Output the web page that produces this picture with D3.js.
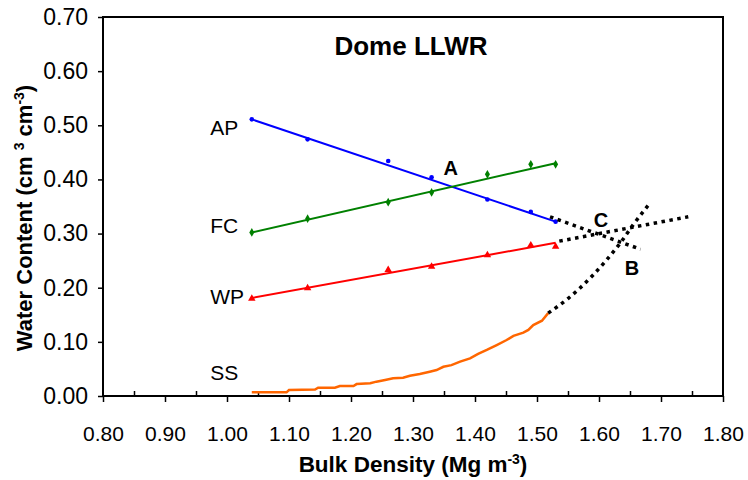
<!DOCTYPE html>
<html>
<head>
<meta charset="utf-8">
<script src="https://cdn.jsdelivr.net/npm/d3@7/dist/d3.min.js"></script>
<style>
  body { margin: 0; background: #fff; }
  text { font-family: "Liberation Sans", Arial, sans-serif; }
</style>
</head>
<body>
<div id="graph-container"></div>
<script>
// Bulk density of the sampled points
const bulkDensity = [1.04, 1.13, 1.26, 1.33, 1.42, 1.49, 1.53];
// Measured water contents
const apValues = [0.511, 0.474, 0.434, 0.404, 0.363, 0.340, 0.322];
const fcValues = [0.302, 0.3275, 0.358, 0.376, 0.4095, 0.428, 0.428];
const wpValues = [0.180, 0.1995, 0.233, 0.239, 0.2604, 0.2785, 0.276];

// Fitted lines [bulk density, water content]
const apFit = [[1.04, 0.511], [1.53, 0.322]];
const fcFit = [[1.04, 0.302], [1.53, 0.430]];
const wpFit = [[1.04, 0.181], [1.53, 0.283]];

// Soil strength limit (stepped curve)
const ssCurve = [
  [1.040, 0.0068], [1.096, 0.0068], [1.100, 0.011], [1.142, 0.012], [1.147, 0.0154],
  [1.174, 0.0154], [1.182, 0.0185], [1.204, 0.0185], [1.209, 0.022], [1.231, 0.0234],
  [1.241, 0.0265], [1.255, 0.0295], [1.268, 0.0326], [1.284, 0.0338], [1.295, 0.0375],
  [1.311, 0.0406], [1.327, 0.0449], [1.338, 0.048], [1.349, 0.054], [1.362, 0.057],
  [1.376, 0.0634], [1.392, 0.0696], [1.405, 0.0776], [1.419, 0.085], [1.435, 0.094],
  [1.451, 0.1034], [1.462, 0.111], [1.478, 0.117], [1.486, 0.122], [1.494, 0.131],
  [1.508, 0.139], [1.518, 0.153]
];

// Dotted extrapolations
const apExt = [[1.521, 0.331], [1.667, 0.271]];
const wpExt = [[1.536, 0.286], [1.744, 0.331]];
const ssExt = [[1.518, 0.153], [1.550, 0.180], [1.569, 0.199], [1.612, 0.251],
  [1.634, 0.282], [1.655, 0.316], [1.682, 0.356]];

const xTicks = [0.8, 0.9, 1.0, 1.1, 1.2, 1.3, 1.4, 1.5, 1.6, 1.7, 1.8];
const yTicks = [0, 0.1, 0.2, 0.3, 0.4, 0.5, 0.6, 0.7];

const width = 748;
const height = 480;
const margin = {top: 17, right: 25, bottom: 84, left: 103};

const svg = d3.select('#graph-container')
  .append('svg')
  .attr('width', width)
  .attr('height', height);

svg.append('rect')
  .attr('width', width)
  .attr('height', height)
  .attr('fill', '#fff');

const xScale = d3.scaleLinear()
  .domain([0.8, 1.8])
  .range([margin.left, width - margin.right]);

const yScale = d3.scaleLinear()
  .domain([0, 0.7])
  .range([height - margin.bottom, margin.top]);

const fmt = d3.format('.2f');

// Y axis
const yAxis = d3.axisLeft(yScale)
  .tickValues(yTicks)
  .tickSizeInner(5)
  .tickSizeOuter(0)
  .tickPadding(10)
  .tickFormat(fmt);

const gy = svg.append('g')
  .attr('transform', `translate(${margin.left},0)`)
  .call(yAxis);

// X axis
const xAxis = d3.axisBottom(xScale)
  .tickValues(xTicks)
  .tickSizeInner(6)
  .tickSizeOuter(0)
  .tickPadding(24)
  .tickFormat(fmt);

const gx = svg.append('g')
  .attr('transform', `translate(0,${yScale(0)})`)
  .call(xAxis);

// minor ticks on x, pointing inward
const xMinor = d3.axisTop(xScale)
  .tickValues(d3.range(0.85, 1.8, 0.1))
  .tickSizeInner(5)
  .tickSizeOuter(0)
  .tickFormat('');

const gxm = svg.append('g')
  .attr('transform', `translate(0,${yScale(0)})`)
  .call(xMinor);

[gx, gy, gxm].forEach(g => {
  g.select('.domain').remove();
  g.selectAll('line').attr('stroke', '#000').attr('stroke-width', 1.5);
  g.selectAll('text').attr('fill', '#000');
});
gx.selectAll('text').style('font-size', '21px');
gy.selectAll('text').style('font-size', '23px');

// Frame
svg.append('rect')
  .attr('x', xScale(0.8))
  .attr('y', yScale(0.7))
  .attr('width', xScale(1.8) - xScale(0.8))
  .attr('height', yScale(0) - yScale(0.7))
  .attr('fill', 'none')
  .attr('stroke', '#000')
  .attr('stroke-width', 2);

const line = d3.line()
  .x(d => xScale(d[0]))
  .y(d => yScale(d[1]));

const smoothLine = d3.line()
  .x(d => xScale(d[0]))
  .y(d => yScale(d[1]))
  .curve(d3.curveMonotoneX);

// Fitted lines
const fits = [
  {data: apFit, color: '#0000ff'},
  {data: fcFit, color: '#008000'},
  {data: wpFit, color: '#ff0000'},
];
fits.forEach(f => {
  svg.append('path')
    .attr('d', line(f.data))
    .attr('stroke', f.color)
    .attr('stroke-width', 2)
    .attr('fill', 'none');
});

// SS curve
svg.append('path')
  .attr('d', line(ssCurve))
  .attr('stroke', '#ff6600')
  .attr('stroke-width', 2.5)
  .attr('fill', 'none');

// Markers
const apPts = bulkDensity.map((b, i) => [b, apValues[i]]);
const fcPts = bulkDensity.map((b, i) => [b, fcValues[i]]);
const wpPts = bulkDensity.map((b, i) => [b, wpValues[i]]);

svg.append('g').selectAll('circle')
  .data(apPts)
  .join('circle')
  .attr('cx', d => xScale(d[0]))
  .attr('cy', d => yScale(d[1]))
  .attr('r', 2.3)
  .attr('fill', '#0000ff');

const diamond = d3.symbol().type(d3.symbolDiamond).size(22);
svg.append('g').selectAll('path')
  .data(fcPts)
  .join('path')
  .attr('d', diamond)
  .attr('transform', d => `translate(${xScale(d[0])},${yScale(d[1])})`)
  .attr('fill', '#008000');

const triangle = d3.symbol().type(d3.symbolTriangle).size(24);
svg.append('g').selectAll('path')
  .data(wpPts)
  .join('path')
  .attr('d', triangle)
  .attr('transform', d => `translate(${xScale(d[0])},${yScale(d[1])})`)
  .attr('fill', '#ff0000');

// Dotted extrapolations
[apExt, wpExt, ssExt].forEach(d => {
  svg.append('path')
    .attr('d', smoothLine(d))
    .attr('stroke', '#000')
    .attr('stroke-width', 3.5)
    .attr('stroke-dasharray', '3.5,4.5')
    .attr('fill', 'none');
});

// Series labels
const seriesLabels = [
  {text: 'AP', x: 0.973, y: 0.482},
  {text: 'FC', x: 0.973, y: 0.301},
  {text: 'WP', x: 0.973, y: 0.170},
  {text: 'SS', x: 0.973, y: 0.0296},
];
seriesLabels.forEach(l => {
  svg.append('text')
    .attr('x', xScale(l.x))
    .attr('y', yScale(l.y))
    .style('font-size', '21px')
    .text(l.text);
});

// Point labels
const pointLabels = [
  {text: 'A', x: 1.361, y: 0.408},
  {text: 'C', x: 1.603, y: 0.312},
  {text: 'B', x: 1.653, y: 0.2235},
];
pointLabels.forEach(l => {
  svg.append('text')
    .attr('x', xScale(l.x))
    .attr('y', yScale(l.y))
    .attr('text-anchor', 'middle')
    .style('font-size', '20px')
    .style('font-weight', 'bold')
    .text(l.text);
});

// Title
svg.append('text')
  .attr('x', 411)
  .attr('y', 55)
  .attr('text-anchor', 'middle')
  .style('font-size', '26px')
  .style('font-weight', 'bold')
  .text('Dome LLWR');

// X title
const xt = svg.append('text')
  .attr('x', 413)
  .attr('y', 472)
  .attr('text-anchor', 'middle')
  .style('font-size', '22.5px')
  .style('font-weight', 'bold');
xt.append('tspan').text('Bulk Density (Mg m');
xt.append('tspan').attr('dy', -8).style('font-size', '14px').text('-3');
xt.append('tspan').attr('dy', 8).text(')');

// Y title
const yt = svg.append('text')
  .attr('transform', 'translate(32,218) rotate(-90)')
  .attr('text-anchor', 'middle')
  .style('font-size', '22px')
  .style('font-weight', 'bold');
yt.append('tspan').text('Water Content (cm ');
yt.append('tspan').attr('dy', -8).style('font-size', '14px').text('3');
yt.append('tspan').attr('dy', 8).text(' cm');
yt.append('tspan').attr('dy', -8).style('font-size', '14px').text('-3');
yt.append('tspan').attr('dy', 8).text(')');
</script>
</body>
</html>
